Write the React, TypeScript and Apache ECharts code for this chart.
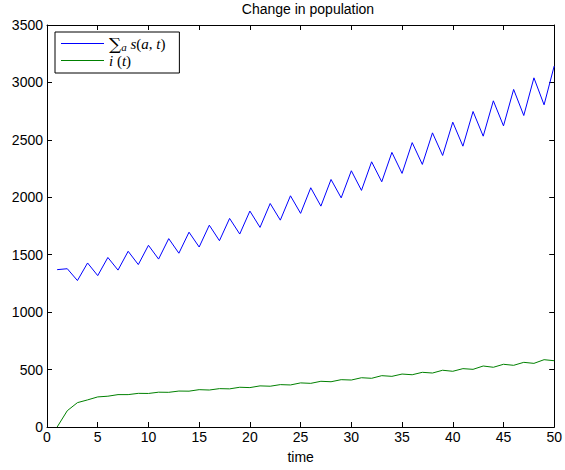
import React, { useEffect, useRef } from "react";
import * as echarts from "echarts";

const timeSteps = [1,2,3,4,5,6,7,8,9,10,11,12,13,14,15,16,17,18,19,20,21,22,23,24,25,26,27,28,29,30,31,32,33,34,35,36,37,38,39,40,41,42,43,44,45,46,47,48,49,50];
const sumS = [1370,1378,1275,1428,1318,1476,1366,1530,1414,1582,1462,1640,1513,1696,1567,1757,1622,1816,1680,1880,1738,1946,1801,2013,1860,2083,1923,2155,1995,2231,2060,2309,2135,2391,2208,2476,2286,2561,2364,2654,2445,2747,2532,2840,2622,2939,2712,3040,2805,3143];
const infected = [0,142,212,236,262,268,282,282,293,292,303,302,313,312,325,322,334,332,346,343,358,355,369,366,384,380,398,394,412,409,429,424,447,441,461,455,476,470,494,485,508,502,531,520,546,537,563,554,586,577];
const xTicks = { min: 0, max: 50, interval: 5 };
const yTicks = { min: 0, max: 3500, interval: 500 };
const seriesNames = ["sum", "inf"];

export default function App() {
  const ref = useRef<HTMLDivElement>(null);
  useEffect(() => {
    document.body.style.margin = "0";
    const chart = echarts.init(ref.current!, null, { renderer: "svg" });
    const font = "'Liberation Sans', Arial, Helvetica, sans-serif";
    const axisCommon = {
      axisLine: { show: true, onZero: false, lineStyle: { color: "#000", width: 1 } },
      axisTick: { show: true, inside: true, length: 5, lineStyle: { color: "#000" } },
      splitLine: { show: false },
    };
    const plain = (v: number) => String(v);
    chart.setOption({
      animation: false,
      backgroundColor: "#fff",
      title: {
        text: "Change in population",
        left: 303,
        textAlign: "center",
        top: -3,
        textStyle: { fontFamily: font, fontSize: 14, fontWeight: "normal", color: "#000" },
      },
      grid: { left: 47, right: 9, top: 25, bottom: 43, containLabel: false },
      legend: {
        orient: "vertical",
        left: 55,
        top: 32,
        data: seriesNames,
        icon: "rect",
        itemWidth: 43,
        itemHeight: 1,
        itemGap: 0,
        padding: [3, 14, 4, 6],
        borderColor: "#000",
        borderWidth: 1,
        backgroundColor: "#fff",
        formatter: (name: string) =>
          name === "sum" ? "{sum|∑}{sub|a} {it|s}{rm|(}{it|a}{rm|, }{it|t}{rm|)}" : "{it|i}{rm| (}{it|t}{rm|)}",
        textStyle: {
          color: "#000",
          fontFamily: "'Liberation Serif', serif",
          fontSize: 15,
          lineHeight: 17,
          rich: {
            sum: { fontSize: 17, fontFamily: "'DejaVu Serif', serif", color: "#000", lineHeight: 17 },
            sub: { fontSize: 11, fontStyle: "italic", fontFamily: "'Liberation Serif', serif", color: "#000", verticalAlign: "bottom", padding: [7, 0, 0, 0] },
            it: { fontSize: 15, fontStyle: "italic", fontFamily: "'Liberation Serif', serif", color: "#000", lineHeight: 17 },
            rm: { fontSize: 15, fontFamily: "'Liberation Serif', serif", color: "#000", lineHeight: 17 },
          },
        },
      },
      xAxis: [
        {
          type: "value",
          min: xTicks.min,
          max: xTicks.max,
          interval: xTicks.interval,
          position: "bottom",
          name: "time",
          nameLocation: "middle",
          nameGap: 23,
          nameTextStyle: { fontFamily: font, fontSize: 14, color: "#000" },
          axisLabel: { fontFamily: font, fontSize: 14, color: "#000", margin: 3, formatter: plain },
          ...axisCommon,
        },
        {
          type: "value",
          min: xTicks.min,
          max: xTicks.max,
          interval: xTicks.interval,
          position: "top",
          axisLabel: { show: false },
          ...axisCommon,
        },
      ],
      yAxis: [
        {
          type: "value",
          min: yTicks.min,
          max: yTicks.max,
          interval: yTicks.interval,
          position: "left",
          axisLabel: { fontFamily: font, fontSize: 14, color: "#000", margin: 4, formatter: plain },
          ...axisCommon,
        },
        {
          type: "value",
          min: yTicks.min,
          max: yTicks.max,
          interval: yTicks.interval,
          position: "right",
          axisLabel: { show: false },
          ...axisCommon,
        },
      ],
      series: [
        {
          name: "sum",
          type: "line",
          data: timeSteps.map((t, i) => [t, sumS[i]]),
          showSymbol: false,
          symbol: "none",
          lineStyle: { color: "#0000ff", width: 1 },
          itemStyle: { color: "#0000ff" },
        },
        {
          name: "inf",
          type: "line",
          data: timeSteps.map((t, i) => [t, infected[i]]),
          showSymbol: false,
          symbol: "none",
          lineStyle: { color: "#008000", width: 1 },
          itemStyle: { color: "#008000" },
        },
      ],
    });
    return () => chart.dispose();
  }, []);
  return <div ref={ref} style={{ position: "absolute", left: 0, top: 0, width: 565, height: 470 }} />;
}
